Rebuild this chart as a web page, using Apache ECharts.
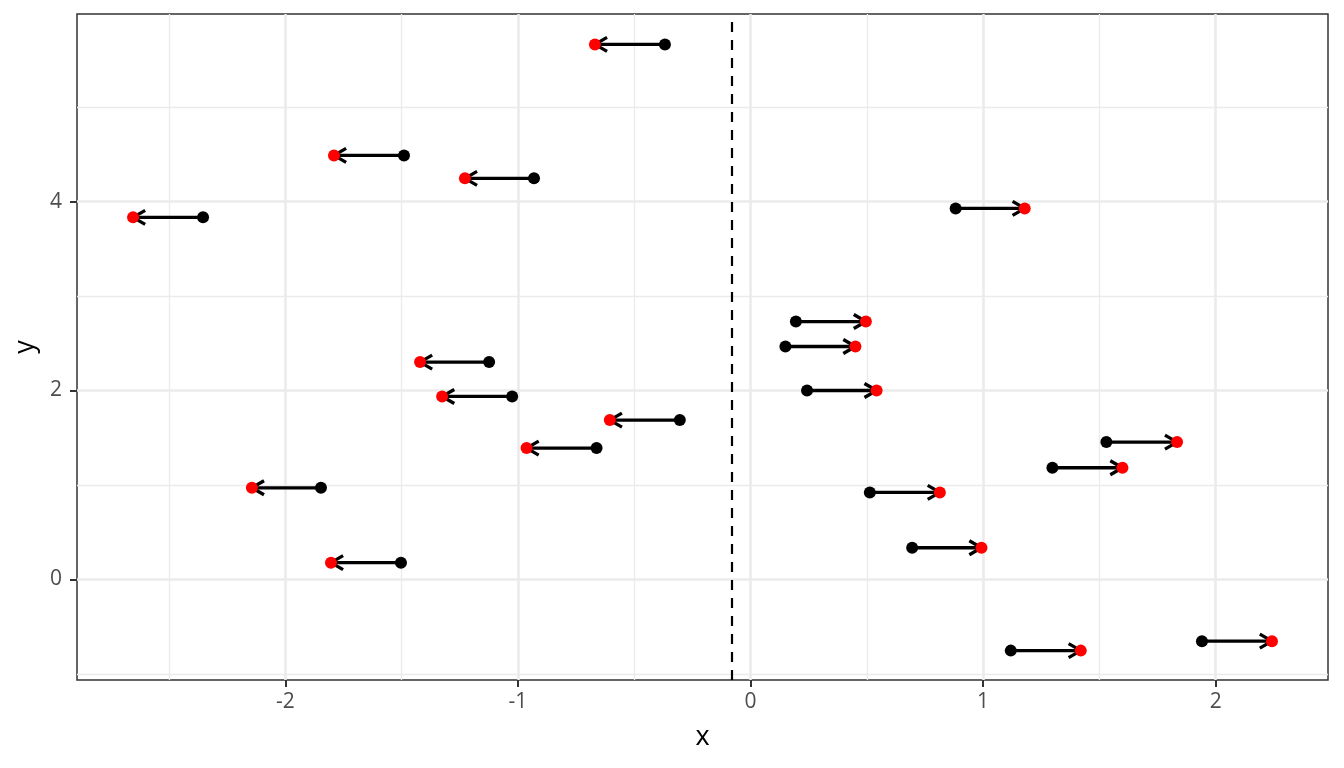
<!DOCTYPE html>
<html>
<head>
<meta charset="utf-8">
<title>arrows</title>
<script src="https://cdn.jsdelivr.net/npm/echarts@6/dist/echarts.min.js"></script>
<style>
  html, body { margin: 0; padding: 0; background: #fff; }
  #main { width: 1344px; height: 768px; }
</style>
</head>
<body>
<div id="main"></div>
<script>
// arrow rows: y position, start x (black point), end x (red point)
var yVals  = [5.664, 4.489, 4.246, 3.833, 3.928, 2.730, 2.466, 2.301, 2.000, 1.937,
              1.687, 1.390, 1.454, 1.182, 0.970, 0.921, 0.335, 0.177, -0.654, -0.754];
var xStart = [-0.368, -1.490, -0.931, -2.354, 0.882, 0.195, 0.150, -1.124, 0.243, -1.025,
              -0.304, -0.662, 1.530, 1.298, -1.847, 0.513, 0.695, -1.503, 1.941, 1.119];
var xEnd   = [-0.669, -1.791, -1.228, -2.655, 1.179, 0.496, 0.451, -1.421, 0.542, -1.326,
              -0.605, -0.963, 1.834, 1.599, -2.144, 0.814, 0.993, -1.804, 2.242, 1.420];

// axes
var xTicks = [-2, -1, 0, 1, 2];
var xMinor = [-2.5, -1.5, -0.5, 0.5, 1.5];
var yTicks = [0, 2, 4];
var yMinor = [-1, 1, 3, 5];
var xRange = [-2.896, 2.483];
var yRange = [-1.065, 5.986];
var refLine = -0.078;   // dashed vertical line

var gridColor = '#EBEBEB';
var font = '"Open Sans", "Noto Sans", sans-serif';

var rows = [];
var blackPts = [];
var redPts = [];
for (var i = 0; i < yVals.length; i++) {
  rows.push([xStart[i], xEnd[i], yVals[i]]);
  blackPts.push([xStart[i], yVals[i]]);
  redPts.push([xEnd[i], yVals[i]]);
}

//grid lines as markLines (major + minor)
var gridLines = [];
xMinor.forEach(function (v) { gridLines.push({ xAxis: v, lineStyle: { width: 1.3 } }); });
yMinor.forEach(function (v) { gridLines.push({ yAxis: v, lineStyle: { width: 1.3 } }); });
xTicks.forEach(function (v) { gridLines.push({ xAxis: v, lineStyle: { width: 2.6 } }); });
yTicks.forEach(function (v) { gridLines.push({ yAxis: v, lineStyle: { width: 2.6 } }); });

// shaft + open arrow head at the end point
function renderArrow(params, api) {
  var p0 = api.coord([api.value(0), api.value(2)]);
  var p1 = api.coord([api.value(1), api.value(2)]);
  var dx = p1[0] - p0[0], dy = p1[1] - p0[1];
  var len = Math.sqrt(dx * dx + dy * dy) || 1;
  var ux = dx / len, uy = dy / len;
  var headLen = 14;
  var c = Math.cos(Math.PI / 6), s = Math.sin(Math.PI / 6);
  var a = [p1[0] - headLen * (ux * c - uy * s), p1[1] - headLen * (uy * c + ux * s)];
  var b = [p1[0] - headLen * (ux * c + uy * s), p1[1] - headLen * (uy * c - ux * s)];
  var st = { stroke: '#000', fill: null, lineWidth: 3.3, lineJoin: 'round', lineCap: 'butt' };
  return {
    type: 'group',
    children: [
      { type: 'polyline', shape: { points: [p0, p1] }, style: st },
      { type: 'polyline', shape: { points: [a, p1, b] }, style: st }
    ]
  };
}

var chart = echarts.init(document.getElementById('main'), null, { renderer: 'canvas' });

chart.setOption({
  animation: false,
  backgroundColor: '#fff',
  grid: {
    left: 77, right: 16, top: 14, bottom: 88,
    show: true, borderColor: '#333', borderWidth: 1.5, backgroundColor: 'transparent'
  },
  xAxis: {
    type: 'value',
    min: xRange[0], max: xRange[1],
    name: 'x', nameLocation: 'middle', nameGap: 44,
    nameTextStyle: { fontFamily: font, fontSize: 27, color: '#000' },
    axisLine: { show: false, onZero: false },
    splitLine: { show: false },
    axisTick: { show: true, length: 7, customValues: xTicks, lineStyle: { color: '#333', width: 2 } },
    axisLabel: { customValues: xTicks, margin: 12, fontFamily: font, fontSize: 21, color: '#4D4D4D' }
  },
  yAxis: {
    type: 'value',
    min: yRange[0], max: yRange[1],
    name: 'y', nameLocation: 'middle', nameGap: 32,
    nameTextStyle: { fontFamily: font, fontSize: 27, color: '#000' },
    axisLine: { show: false, onZero: false },
    splitLine: { show: false },
    axisTick: { show: true, length: 7, customValues: yTicks, lineStyle: { color: '#333', width: 2 } },
    axisLabel: { customValues: yTicks, margin: 15, fontFamily: font, fontSize: 21, color: '#4D4D4D' }
  },
  series: [
    {
      type: 'line', data: [], silent: true, z: 1,
      markLine: {
        silent: true, symbol: 'none', animation: false, z: 1,
        label: { show: false },
        lineStyle: { color: gridColor, type: 'solid' },
        data: gridLines
      }
    },
    {
      type: 'line', data: [], silent: true, z: 2,
      markLine: {
        silent: true, symbol: 'none', animation: false, z: 2,
        label: { show: false },
        lineStyle: { color: '#000', type: [10, 8], width: 2.2 },
        data: [{ xAxis: refLine }]
      }
    },
    {
      type: 'custom', z: 3, silent: true,
      renderItem: renderArrow,
      encode: { x: [0, 1], y: 2 },
      data: rows
    },
    {
      type: 'scatter', z: 4, symbolSize: 12, silent: true,
      itemStyle: { color: '#000', opacity: 1 },
      data: blackPts
    },
    {
      type: 'scatter', z: 5, symbolSize: 12, silent: true,
      itemStyle: { color: '#FF0000', opacity: 1 },
      data: redPts
    }
  ]
});
</script>
</body>
</html>
